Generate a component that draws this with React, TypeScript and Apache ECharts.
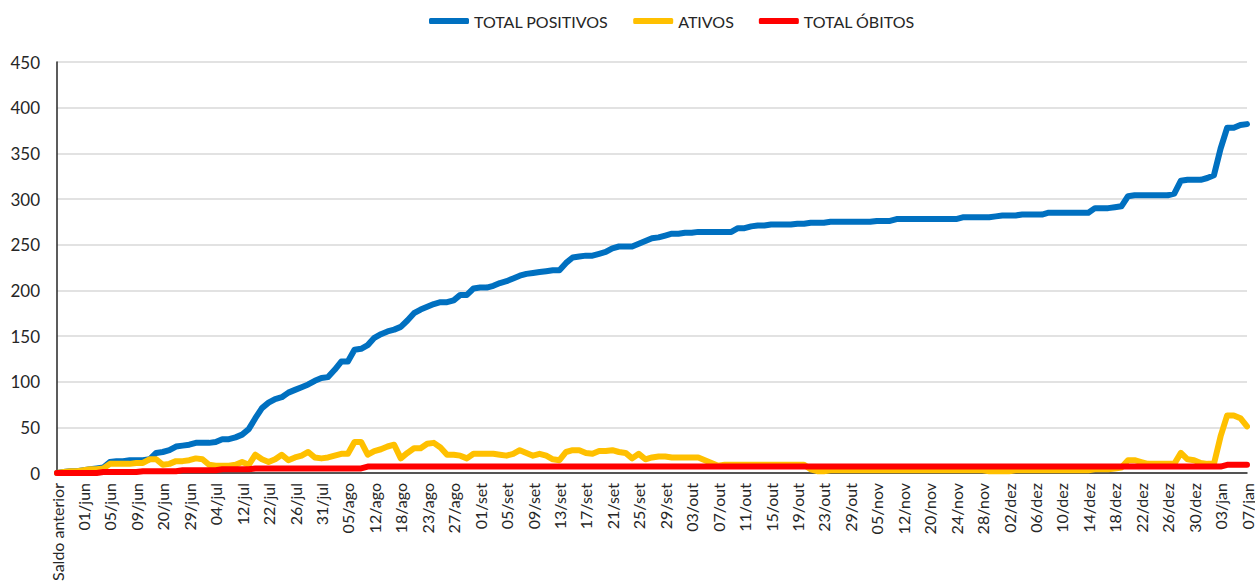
import React, { useEffect, useRef } from "react";
import * as echarts from "echarts";

const categories: string[] = [
  "Saldo anterior", "29/mai", "30/mai", "31/mai",
  "01/jun", "02/jun", "03/jun", "04/jun", "05/jun", "06/jun", "07/jun", "08/jun", "09/jun",
  "12/jun", "15/jun", "17/jun", "20/jun",
  "22/jun", "24/jun", "26/jun", "29/jun",
  "01/jul", "02/jul", "03/jul", "04/jul",
  "06/jul", "08/jul", "10/jul", "12/jul",
  "15/jul", "17/jul", "20/jul", "22/jul",
  "23/jul", "24/jul", "25/jul", "26/jul",
  "27/jul", "29/jul", "30/jul", "31/jul",
  "01/ago", "03/ago", "04/ago", "05/ago",
  "07/ago", "09/ago", "11/ago", "12/ago",
  "13/ago", "14/ago", "17/ago", "18/ago",
  "19/ago", "20/ago", "21/ago", "23/ago",
  "24/ago", "25/ago", "26/ago", "27/ago",
  "28/ago", "29/ago", "31/ago", "01/set",
  "02/set", "03/set", "04/set", "05/set",
  "06/set", "07/set", "08/set", "09/set",
  "10/set", "11/set", "12/set", "13/set",
  "14/set", "15/set", "16/set", "17/set",
  "18/set", "19/set", "20/set", "21/set",
  "22/set", "23/set", "24/set", "25/set",
  "26/set", "27/set", "28/set", "29/set",
  "30/set", "01/out", "02/out", "03/out",
  "04/out", "05/out", "06/out", "07/out",
  "08/out", "09/out", "10/out", "11/out",
  "12/out", "13/out", "14/out", "15/out",
  "16/out", "17/out", "18/out", "19/out",
  "20/out", "21/out", "22/out", "23/out",
  "25/out", "26/out", "27/out", "29/out",
  "31/out", "02/nov", "03/nov", "05/nov",
  "07/nov", "09/nov", "10/nov", "12/nov",
  "14/nov", "16/nov", "18/nov", "20/nov",
  "21/nov", "22/nov", "23/nov", "24/nov",
  "25/nov", "26/nov", "27/nov", "28/nov",
  "29/nov", "30/nov", "01/dez", "02/dez",
  "03/dez", "04/dez", "05/dez", "06/dez",
  "07/dez", "08/dez", "09/dez", "10/dez",
  "11/dez", "12/dez", "13/dez", "14/dez",
  "15/dez", "16/dez", "17/dez", "18/dez",
  "19/dez", "20/dez", "21/dez", "22/dez",
  "23/dez", "24/dez", "25/dez", "26/dez",
  "27/dez", "28/dez", "29/dez", "30/dez",
  "31/dez", "01/jan", "02/jan", "03/jan",
  "04/jan", "05/jan", "06/jan", "07/jan",
];

const totalPositivos: number[] = [
  0, 1, 2, 2, 3, 4, 5, 6, 12, 13,
  13, 14, 14, 14, 15, 22, 23, 25, 29, 30,
  31, 33, 33, 33, 34, 37, 37, 39, 42, 48,
  60, 71, 77, 81, 83, 88, 91, 94, 97, 101,
  104, 105, 113, 122, 122, 135, 136, 140, 148, 152,
  155, 157, 160, 167, 175, 179, 182, 185, 187, 187,
  189, 195, 195, 202, 203, 203, 205, 208, 210, 213,
  216, 218, 219, 220, 221, 222, 222, 230, 236, 237,
  238, 238, 240, 242, 246, 248, 248, 248, 251, 254,
  257, 258, 260, 262, 262, 263, 263, 264, 264, 264,
  264, 264, 264, 268, 268, 270, 271, 271, 272, 272,
  272, 272, 273, 273, 274, 274, 274, 275, 275, 275,
  275, 275, 275, 275, 276, 276, 276, 278, 278, 278,
  278, 278, 278, 278, 278, 278, 278, 280, 280, 280,
  280, 280, 281, 282, 282, 282, 283, 283, 283, 283,
  285, 285, 285, 285, 285, 285, 285, 290, 290, 290,
  291, 292, 303, 304, 304, 304, 304, 304, 304, 306,
  320, 321, 321, 321, 323, 326, 355, 378, 378, 381,
  382,
];

const ativos: number[] = [
  0, 1, 2, 2, 3, 4, 4, 5, 10, 10,
  10, 10, 11, 11, 15, 15, 9, 10, 13, 13,
  14, 16, 15, 9, 8, 8, 8, 9, 12, 9,
  20, 15, 12, 15, 20, 14, 17, 19, 23, 17,
  16, 17, 19, 21, 21, 34, 34, 20, 24, 26,
  29, 31, 16, 22, 27, 27, 32, 33, 28, 20,
  20, 19, 16, 21, 21, 21, 21, 20, 19, 21,
  25, 22, 19, 21, 19, 15, 14, 23, 25, 25,
  22, 21, 24, 24, 25, 23, 22, 16, 21, 15,
  17, 18, 18, 17, 17, 17, 17, 17, 14, 11,
  8, 9, 9, 9, 9, 9, 9, 9, 9, 9,
  9, 9, 9, 9, 4, 2, 2, 3, 3, 3,
  3, 3, 3, 3, 3, 3, 3, 3, 3, 3,
  3, 3, 3, 3, 3, 3, 3, 3, 3, 3,
  3, 2, 2, 2, 2, 3, 3, 3, 3, 3,
  3, 3, 3, 3, 3, 3, 3, 4, 4, 4,
  5, 6, 14, 14, 12, 10, 10, 10, 10, 10,
  22, 15, 14, 11, 10, 10, 40, 63, 63, 60,
  51,
];

const totalObitos: number[] = [
  0, 0, 0, 0, 0, 0, 0, 1, 1, 1,
  1, 1, 1, 2, 2, 2, 2, 2, 2, 3,
  3, 3, 3, 3, 3, 4, 4, 4, 4, 4,
  5, 5, 5, 5, 5, 5, 5, 5, 5, 5,
  5, 5, 5, 5, 5, 5, 5, 7, 7, 7,
  7, 7, 7, 7, 7, 7, 7, 7, 7, 7,
  7, 7, 7, 7, 7, 7, 7, 7, 7, 7,
  7, 7, 7, 7, 7, 7, 7, 7, 7, 7,
  7, 7, 7, 7, 7, 7, 7, 7, 7, 7,
  7, 7, 7, 7, 7, 7, 7, 7, 7, 7,
  7, 7, 7, 7, 7, 7, 7, 7, 7, 7,
  7, 7, 7, 7, 7, 7, 7, 7, 7, 7,
  7, 7, 7, 7, 7, 7, 7, 7, 7, 7,
  7, 7, 7, 7, 7, 7, 7, 7, 7, 7,
  7, 7, 7, 7, 7, 7, 7, 7, 7, 7,
  7, 7, 7, 7, 7, 7, 7, 7, 7, 7,
  7, 7, 7, 7, 7, 7, 7, 7, 7, 7,
  7, 7, 7, 7, 7, 7, 7, 9, 9, 9,
  9,
];

const seriesNames = ["TOTAL POSITIVOS", "ATIVOS", "TOTAL ÓBITOS"];
const seriesColors = ["#0070C0", "#FFC000", "#FF0000"];

const FONT = "Lato, 'Liberation Sans', sans-serif";

export default function App() {
  const ref = useRef<HTMLDivElement>(null);

  useEffect(() => {
    if (!ref.current) return;
    const chart = echarts.init(ref.current, undefined, { renderer: "svg" });
    const values = [totalPositivos, ativos, totalObitos];
    chart.setOption({
      animation: false,
      backgroundColor: "#ffffff",
      legend: {
        data: seriesNames,
        left: 424,
        top: 8,
        icon: "roundRect",
        itemWidth: 40,
        itemHeight: 6,
        itemGap: 25,
        textStyle: { fontFamily: FONT, fontSize: 16, color: "#262626" },
      },
      grid: { left: 57, right: 5, top: 62, bottom: 115, containLabel: false },
      xAxis: {
        type: "category",
        data: categories,
        boundaryGap: false,
        axisLine: { show: true, lineStyle: { color: "#262626", width: 1.5 } },
        axisTick: { show: false },
        axisLabel: {
          interval: 3,
          rotate: 90,
          fontFamily: FONT,
          fontSize: 16,
          color: "#262626",
          margin: 10,
        },
        splitLine: { show: false },
      },
      yAxis: {
        type: "value",
        min: 0,
        max: 450,
        interval: 50,
        axisLine: { show: true, lineStyle: { color: "#262626", width: 1.5 } },
        axisTick: { show: false },
        axisLabel: { fontFamily: FONT, fontSize: 17, color: "#262626", margin: 17 },
        splitLine: { show: true, lineStyle: { color: "#D9D9D9", width: 1.5 } },
      },
      series: seriesNames.map((name, k) => ({
        name,
        type: "line",
        data: values[k],
        showSymbol: false,
        symbol: "none",
        color: seriesColors[k],
        lineStyle: { color: seriesColors[k], width: 6, cap: "round", join: "round" },
        z: 2 + k,
      })),
    });
    return () => chart.dispose();
  }, []);

  return (
    <div
      ref={ref}
      style={{ position: "fixed", left: 0, top: 0, width: 1255, height: 588, background: "#fff" }}
    />
  );
}
